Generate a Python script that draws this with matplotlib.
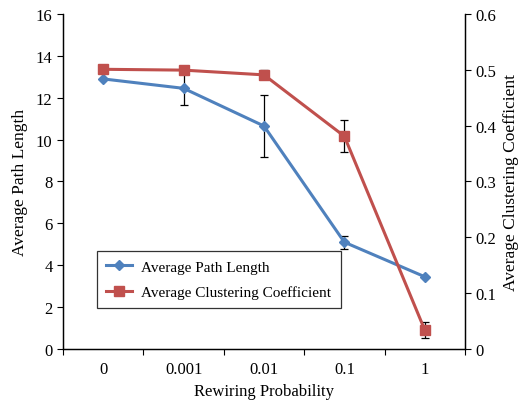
import matplotlib.pyplot as plt
import numpy as np

plt.rcParams['font.family'] = ['Liberation Serif', 'DejaVu Serif']

# data
probs = ["0", "0.001", "0.01", "0.1", "1"]
path_len = [12.9, 12.45, 10.65, 5.1, 3.45]
path_err = [0.0, 0.8, 1.47, 0.32, 0.0]
clust = [0.501, 0.4995, 0.491, 0.381, 0.034]
clust_err = [0.0, 0.0, 0.008, 0.029, 0.014]

blue = "#4F81BD"
red = "#C0504D"

fig = plt.figure(figsize=(5.23, 4.06), dpi=100)
ax = fig.add_axes([0.1205, 0.138, 0.7685, 0.825])
ax2 = ax.twinx()

x = np.arange(len(probs)) + 0.5

ax.errorbar(x, path_len, yerr=path_err, fmt="none", ecolor="black",
            elinewidth=0.9, capsize=3, capthick=0.9, zorder=2)
l1, = ax.plot(x, path_len, color=blue, lw=2.2, marker="D", ms=5,
              label="Average Path Length", zorder=3)

ax2.errorbar(x, clust, yerr=clust_err, fmt="none", ecolor="black",
             elinewidth=0.9, capsize=3, capthick=0.9, zorder=2)
l2, = ax2.plot(x, clust, color=red, lw=2.2, marker="s", ms=7,
               label="Average Clustering Coefficient", zorder=3)

ax.set_xlim(0, 5)
ax.set_ylim(0, 16)
ax.set_yticks(range(0, 17, 2))
ax2.set_ylim(0, 0.6)
ax2.set_yticks([0, 0.1, 0.2, 0.3, 0.4, 0.5, 0.6])
ax2.set_yticklabels(["0", "0.1", "0.2", "0.3", "0.4", "0.5", "0.6"])

ax.set_xticks(range(0, 6))
ax.set_xticklabels([])
ax.set_xticks(x, minor=True)
ax.set_xticklabels(probs, minor=True)
ax.tick_params(axis="x", which="minor", length=0, pad=9, labelsize=12)
ax.tick_params(axis="x", which="major", direction="out", length=4)
ax.tick_params(axis="y", direction="out", length=4, labelsize=12)
ax2.tick_params(axis="y", direction="out", length=4, labelsize=12)

for a in (ax, ax2):
    a.spines["top"].set_visible(False)
    for s in a.spines.values():
        s.set_linewidth(0.9)

ax.set_xlabel("Rewiring Probability", fontsize=12, labelpad=4)
ax.set_ylabel("Average Path Length", fontsize=12.5, labelpad=6)
ax2.set_ylabel("Average Clustering Coefficient", fontsize=12.5, labelpad=5)

leg = ax2.legend(handles=[l1, l2], loc="lower left",
                 bbox_to_anchor=(0.085, 0.122), borderaxespad=0,
                 fontsize=11, fancybox=False, framealpha=1,
                 edgecolor="#333333", handlelength=1.7, handletextpad=0.6,
                 borderpad=0.6, labelspacing=0.75)
leg.get_frame().set_linewidth(0.9)

fig.savefig("out.png", dpi=100)
